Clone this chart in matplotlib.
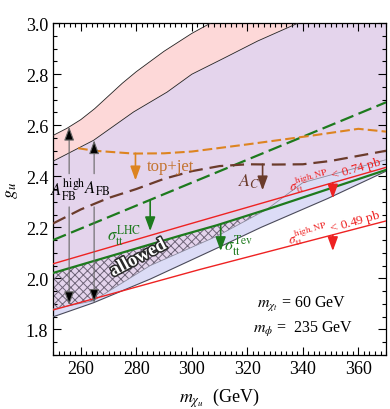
import numpy as np
import matplotlib
matplotlib.use('Agg')
import matplotlib.pyplot as plt
from matplotlib.ticker import MultipleLocator
import matplotlib.patheffects as pe

plt.rcParams['font.family'] = ['Liberation Serif', 'DejaVu Serif']
plt.rcParams['mathtext.fontset'] = 'stix'
plt.rcParams['hatch.linewidth'] = 0.7
plt.rcParams['lines.scale_dashes'] = False

# ---- data (m_chi_u in GeV, g_u) ----
# A_FB^high band, upper edge
m_up = [250, 255, 260, 265, 270, 275, 280, 285, 290, 295, 300, 306.7, 315]
g_up = [2.56, 2.588, 2.622, 2.665, 2.715, 2.765, 2.81, 2.85, 2.89, 2.925, 2.96, 3.0, 3.05]
# A_FB band, upper edge (pink / purple border)
m_lo = [250, 264.6, 279, 291.1, 300, 311.4, 323.7, 338.2, 350, 372]
g_lo = [2.459, 2.541, 2.652, 2.73, 2.80, 2.862, 2.93, 3.0, 3.05, 3.12]
# purple region, lower edge
m_pu = [250, 264.5, 285, 309, 327, 340, 355, 370]
g_pu = [1.880, 1.912, 2.05, 2.165, 2.27, 2.375, 2.42, 2.465]
# pale blue region, lower edge
m_bl = [250, 264.5, 285, 309, 325, 349, 370]
g_bl = [1.849, 1.904, 1.997, 2.118, 2.20, 2.313, 2.42]

# sigma_tt Tevatron (solid green) and LHC (dashed green)
m_tev = [250, 296, 309, 327, 370]
g_tev = [2.021, 2.168, 2.208, 2.27, 2.425]
m_lhc = [250, 300, 370]
g_lhc = [2.15, 2.375, 2.69]
# sigma_tt^high,NP < 0.74 pb and < 0.49 pb
m_r74 = [250, 296, 370]
g_r74 = [2.057, 2.203, 2.435]
m_r49 = [250, 303, 370]
g_r49 = [1.876, 2.035, 2.225]
# top+jet
m_tj = [259, 265, 279, 290, 300, 320, 343, 360, 370]
g_tj = [2.51, 2.50, 2.489, 2.49, 2.497, 2.525, 2.559, 2.586, 2.575]
# A_C
m_ac = [250, 260, 270, 280, 290, 300, 310, 320, 330, 340, 350, 360, 370]
g_ac = [2.215, 2.27, 2.315, 2.35, 2.39, 2.42, 2.44, 2.447, 2.446, 2.447, 2.46, 2.48, 2.50]

pink = '#fdd8d8'
purple = '#e4d4ec'
paleblue = '#dcdcf6'
red = '#ee2222'
green = '#1d7a1d'
orange = '#dd8420'
brown = '#6b3b2b'

fig = plt.figure(figsize=(3.9, 4.1), dpi=100)
ax = fig.add_axes([0.136, 0.132, 0.854, 0.809])

# regions
ax.fill(np.r_[m_bl, m_pu[::-1]], np.r_[g_bl, g_pu[::-1]], color=paleblue, lw=0, zorder=1)
ax.fill(np.r_[m_pu, m_lo[::-1]], np.r_[g_pu, g_lo[::-1]], color=purple, lw=0, zorder=1)
ax.fill(np.r_[m_up, m_lo[::-1]], np.r_[g_up, g_lo[::-1]], color=pink, lw=0, zorder=1)

# allowed (hatched) region between purple lower edge and sigma_tt^Tev
mt, gt = np.array(m_tev), np.array(g_tev)
mp, gp = np.array(m_pu), np.array(g_pu)
k1, k2 = mt <= 327, mp <= 327
ax.fill(np.r_[mt[k1], mp[k2][::-1]], np.r_[gt[k1], gp[k2][::-1]],
        facecolor='none', edgecolor='#6e6478', hatch='xxxx', lw=0, zorder=2)

# region borders
ax.plot(m_up, g_up, color='#222222', lw=0.6, zorder=3)
ax.plot(m_lo, g_lo, color='#222222', lw=0.6, zorder=3)
ax.plot(m_bl, g_bl, color='#4a4a5a', lw=0.8, zorder=3)
ax.plot(m_pu, g_pu, color='#8a8a9e', lw=0.6, zorder=3)

# constraint lines
ax.plot(m_r74, g_r74, color=red, lw=1.0, zorder=4)
ax.plot(m_r49, g_r49, color=red, lw=1.0, zorder=4)
ax.plot(m_tev, g_tev, color=green, lw=1.6, zorder=4)
ax.plot(m_lhc, g_lhc, color=green, lw=1.6, dashes=(10, 4), zorder=4)
ax.plot(m_ac, g_ac, color=brown, lw=1.6, dashes=(10, 5), zorder=4)
ax.plot(m_tj, g_tj, color=orange, lw=1.5, dashes=(7, 3), zorder=4)


def arrow(x, y0, y1, color, fc=None, lw=1.2):
    ax.annotate('', xy=(x, y1), xytext=(x, y0), zorder=5,
                arrowprops=dict(arrowstyle='-|>,head_length=0.6,head_width=0.22',
                                mutation_scale=14, ec=color, fc=fc or color,
                                lw=lw, shrinkA=0, shrinkB=0))


arrow(279.7, 2.49, 2.384, orange)
arrow(325.5, 2.447, 2.345, brown)
arrow(285, 2.307, 2.185, green)
arrow(310.4, 2.213, 2.107, green)
arrow(350.8, 2.375, 2.313, red)
arrow(350.8, 2.168, 2.107, red)
# A_FB arrows
arrow(255.8, 2.41, 2.594, '#666666', 'black', 0.8)
arrow(255.8, 2.28, 1.895, '#666666', 'black', 0.8)
arrow(264.8, 2.41, 2.541, '#666666', 'black', 0.8)
arrow(264.8, 2.28, 1.904, '#666666', 'black', 0.8)

# labels
ax.text(255.4, 2.352, r'$A_{\rm FB}^{\rm high}$', fontsize=12, ha='center', va='center', zorder=6)
ax.text(265.8, 2.356, r'$A_{\rm FB}$', fontsize=12, ha='center', va='center', zorder=6)
ax.text(292.3, 2.442, 'top+jet', fontsize=12, color='#c47430', ha='center', va='center', zorder=6)
ax.text(320.6, 2.383, r'$A_C$', fontsize=13, color=brown, ha='center', va='center', zorder=6)
ax.text(275.7, 2.173, r'$\sigma_{\rm tt}^{\rm LHC}$', fontsize=12, color=green,
        ha='center', va='center', zorder=6)
ax.text(316.9, 2.134, r'$\sigma_{\rm tt}^{\rm Tev}$', fontsize=12, color=green,
        ha='center', va='center', zorder=6)
ax.text(351.8, 2.41, r'$\sigma_{\rm tt}^{\rm high,NP}$ < 0.74 pb', fontsize=9.5, color=red,
        ha='center', va='center', rotation=16, rotation_mode='anchor', zorder=6)
ax.text(351.3, 2.204, r'$\sigma_{\rm tt}^{\rm high,NP}$ < 0.49 pb', fontsize=9.5, color=red,
        ha='center', va='center', rotation=16, rotation_mode='anchor', zorder=6)
ax.text(280.7, 2.079, 'allowed', fontsize=13.5, fontweight='bold', color='white',
        ha='center', va='center', rotation=28, rotation_mode='anchor', zorder=6,
        path_effects=[pe.withStroke(linewidth=2.2, foreground='#2a2a2a')])
ax.text(339.6, 1.90, r'$m_{\chi_t}$ = 60 GeV', fontsize=11.5, ha='center', va='center', zorder=6)
ax.text(340, 1.802, r'$m_{\phi}$ =  235 GeV', fontsize=11.5, ha='center', va='center', zorder=6)

ax.set_xlim(250, 370)
ax.set_ylim(1.7, 3.0)
ax.xaxis.set_major_locator(MultipleLocator(20))
ax.xaxis.set_minor_locator(MultipleLocator(2))
ax.yaxis.set_major_locator(MultipleLocator(0.2))
ax.yaxis.set_minor_locator(MultipleLocator(0.05))
ax.tick_params(which='both', direction='in', top=True, right=True, labelsize=13, width=0.8)
ax.tick_params(which='major', length=6)
ax.tick_params(which='minor', length=3)
ax.set_xticks([260, 280, 300, 320, 340, 360])
ax.set_yticks([1.8, 2.0, 2.2, 2.4, 2.6, 2.8, 3.0])
ax.set_yticklabels(['1.8', '2.0', '2.2', '2.4', '2.6', '2.8', '3.0'])
for s in ax.spines.values():
    s.set_linewidth(0.9)
ax.set_xlabel(r'$m_{\chi_u}$  (GeV)', fontsize=13, labelpad=6)
ax.set_ylabel(r'$g_u$', fontsize=13, labelpad=4)

fig.savefig('out.png', dpi=100)
